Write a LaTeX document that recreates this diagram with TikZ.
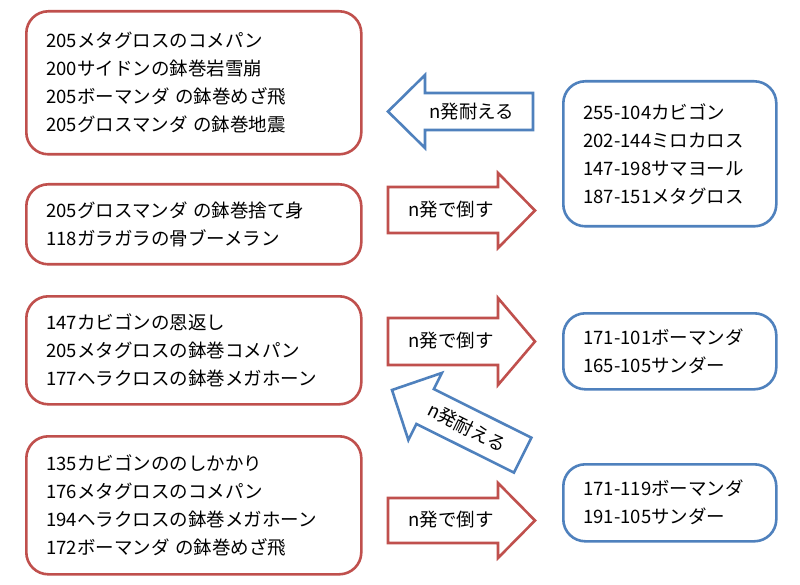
\documentclass[tikz,border=0pt]{standalone}
\usepackage{fontspec}
\setmainfont{Noto Sans CJK JP}
\definecolor{boxred}{RGB}{192,80,77}
\definecolor{boxblue}{RGB}{79,129,189}
\newcommand{\dgap}{\hspace{0.3em}}
\begin{document}
\begin{tikzpicture}[x=1pt,y=-1pt,
  txt/.style={font=\fontsize{18.5}{28}\selectfont},
  rbox/.style 2 args={draw=boxred, line width=2.6pt, rounded corners=22pt, fill=white,
     inner xsep=20pt, inner ysep=0pt, align=left, anchor=north west, txt,
     text width=#1pt-40pt, minimum height=#2pt},
  bbox/.style 2 args={rbox={#1}{#2}, draw=boxblue},
  redarrow/.style={draw=boxred, line width=2.6pt, line join=miter, fill=white},
  bluearrow/.style={draw=boxblue, line width=2.6pt, line join=miter, fill=white},
  alabel/.style={txt, inner sep=0pt}
]
\useasboundingbox[fill=white] (0,0) rectangle (800,585);

% left boxes
\node[rbox={335}{143}] (a) at (25,10) {205メタグロスのコメパン\\200サイドンの鉢巻岩雪崩\\205ボーマンダ\dgap の鉢巻めざ飛\\205グロスマンダ\dgap の鉢巻地震};
\node[rbox={335}{80}] (b) at (25,183) {205グロスマンダ\dgap の鉢巻捨て身\\118ガラガラの骨ブーメラン};
\node[rbox={335}{108}] (c) at (25,295) {147カビゴンの恩返し\\205メタグロスの鉢巻コメパン\\177ヘラクロスの鉢巻メガホーン};
\node[rbox={335}{138}] (d) at (25,435) {135カビゴンののしかかり\\176メタグロスのコメパン\\194ヘラクロスの鉢巻メガホーン\\172ボーマンダ\dgap の鉢巻めざ飛};

% right boxes
\node[bbox={213}{145}] (e) at (562,80) {255-104カビゴン\\202-144ミロカロス\\147-198サマヨール\\187-151メタグロス};
\node[bbox={213}{76}] (f) at (562,312) {171-101ボーマンダ\\165-105サンダー};
\node[bbox={213}{77}] (g) at (562,463) {171-119ボーマンダ\\191-105サンダー};

% blue arrow (top, pointing left)
\draw[bluearrow] (533,93) -- (425,93) -- (425,75) -- (388,111.5) -- (425,148) -- (425,130) -- (533,130) -- cycle;
\node[alabel] (l1) at (472,112) {n発耐える};

% red arrows
\draw[redarrow] (388,187) -- (498,187) -- (498,173) -- (535,210.5) -- (498,248) -- (498,233) -- (388,233) -- cycle;
\node[alabel] (l2) at (451,210) {n発で倒す};

\draw[redarrow] (388,318) -- (498,318) -- (498,298) -- (535,341.5) -- (498,385) -- (498,365) -- (388,365) -- cycle;
\node[alabel] (l3) at (451,341) {n発で倒す};

\draw[redarrow] (388,498) -- (498,498) -- (498,483) -- (535,520.5) -- (498,558) -- (498,543) -- (388,543) -- cycle;
\node[alabel] (l4) at (451,520) {n発で倒す};

% diagonal blue arrow
\begin{scope}[shift={(392,390)}, rotate=-26.5]
\draw[bluearrow] (0,0) -- (37,-37.5) -- (37,-19.5) -- (146,-19.5) -- (146,19.5) -- (37,19.5) -- (37,37.5) -- cycle;
\node[alabel, rotate=-26.5] (l5) at (84,0) {n発耐える};
\end{scope}
\end{tikzpicture}
\end{document}
